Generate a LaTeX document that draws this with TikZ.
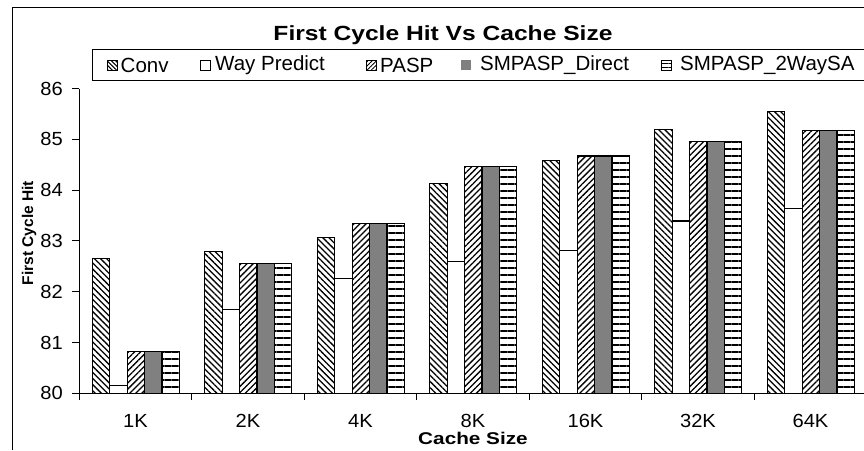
\documentclass[tikz,border=0pt]{standalone}
\usepackage{graphicx}
\usepackage{fontspec}
\setmainfont{Liberation Sans}
\usetikzlibrary{patterns.meta}

\begin{document}
\begin{tikzpicture}[x=1pt,y=-1pt,
  ticklabel/.style={font=\fontsize{19}{22}\selectfont, inner sep=0pt},
  legtext/.style={font=\fontsize{20.5}{24}\selectfont, anchor=west, inner sep=0pt},
  barbox/.style={draw=black, line width=1.2pt},
  convbar/.style={barbox, pattern={Lines[angle=-45,distance=4.3pt,line width=1.3pt]}},
  waybar/.style={barbox, fill=white},
  paspbar/.style={barbox, pattern={Lines[angle=45,distance=4.3pt,line width=1.3pt]}},
  directbar/.style={barbox, fill=bar_gray},
  twowaybar/.style={barbox, pattern={Lines[angle=0,distance=7pt,line width=1.3pt]}}
]

\definecolor{bar_gray}{HTML}{808080}

\useasboundingbox (0,0) rectangle (864,450);

% chart frame and legend box
\draw[line width=1pt] (12,450) -- (12,7) -- (870,7);
\draw[line width=0.8pt] (870,49.5) -- (92,49.5) -- (92,80) -- (870,80);

\node[font=\bfseries\fontsize{20.5}{24}\selectfont] (title) at (443,35) {\scalebox{1.2}[1]{First Cycle Hit Vs Cache Size}};

% legend
\draw[barbox, line width=0.8pt, pattern={Lines[angle=-45,distance=3pt,line width=1pt]}] (107,60) rectangle (117,70);
\node[legtext] (leg-conv) at (120.5,65) {Conv};
\draw[barbox, line width=0.8pt, fill=white] (200.5,60) rectangle (210.5,70);
\node[legtext] (leg-way) at (215,65) {Way Predict};
\draw[barbox, line width=0.8pt, pattern={Lines[angle=45,distance=3pt,line width=1pt]}] (366,60) rectangle (376,70);
\node[legtext] (leg-pasp) at (380,65) {PASP};
\fill[bar_gray] (461,60) rectangle (471,70);
\node[legtext] (leg-direct) at (480,65) {SMPASP\_Direct};
\draw[barbox, line width=0.8pt, pattern={Lines[angle=0,distance=3.3pt,line width=1pt]}] (661,60) rectangle (671,70);
\node[legtext] (leg-twoway) at (680,65) {SMPASP\_2WaySA};

% bars: Conv / Way Predict / PASP / SMPASP_Direct / SMPASP_2WaySA
\foreach \i/\c/\w/\p in {0/82.66/80.16/80.82, 1/82.79/81.65/82.56, 2/83.07/82.26/83.35,
    3/84.13/82.60/84.47, 4/84.58/82.81/84.67, 5/85.20/83.39/84.95, 6/85.54/83.64/85.18}{
  \pgfmathsetmacro{\xa}{79.3+112.5*\i+13}
  \draw[convbar] (\xa,393.3) rectangle ({\xa+17.4},{393.3-50.8*(\c-80)});
  \draw[waybar] ({\xa+17.4},393.3) rectangle ({\xa+34.8},{393.3-50.8*(\w-80)});
  \draw[paspbar] ({\xa+34.8},393.3) rectangle ({\xa+52.2},{393.3-50.8*(\p-80)});
  \draw[directbar] ({\xa+52.2},393.3) rectangle ({\xa+69.6},{393.3-50.8*(\p-80)});
  \draw[twowaybar] ({\xa+69.6},393.3) rectangle ({\xa+87},{393.3-50.8*(\p-80)});
}

% axes
\coordinate (origin) at (79.3,393.3);
\coordinate (ytop) at (79.3,88.7);
\coordinate (xend) at (870,393.3);
\draw[line width=1pt] (ytop) -- (origin) -- (xend);

\foreach \v in {80,...,86}{
  \draw[line width=1pt] (72,{393.3-50.8*(\v-80)}) -- (79.3,{393.3-50.8*(\v-80)});
  \node[ticklabel, anchor=east] (ytick-\v) at (63,{393.3-50.8*(\v-80)}) {\scalebox{1.06}[1]{\v}};
}

\foreach \k/\lab in {0/1K, 1/2K, 2/4K, 3/8K, 4/16K, 5/32K, 6/64K}{
  \draw[line width=1pt] ({79.3+112.5*\k},393.3) -- ({79.3+112.5*\k},399.5);
  \node[ticklabel] (cat-\k) at ({135.5+112.5*\k},421) {\scalebox{1.06}[1]{\lab}};
}

\node[font=\bfseries\fontsize{17}{20}\selectfont] (xlabel) at (473,438) {\scalebox{1.22}[1]{Cache Size}};
\node[font=\bfseries\fontsize{15.5}{18}\selectfont, rotate=90] (ylabel) at (29,233) {First Cycle Hit};

\end{tikzpicture}
\end{document}
